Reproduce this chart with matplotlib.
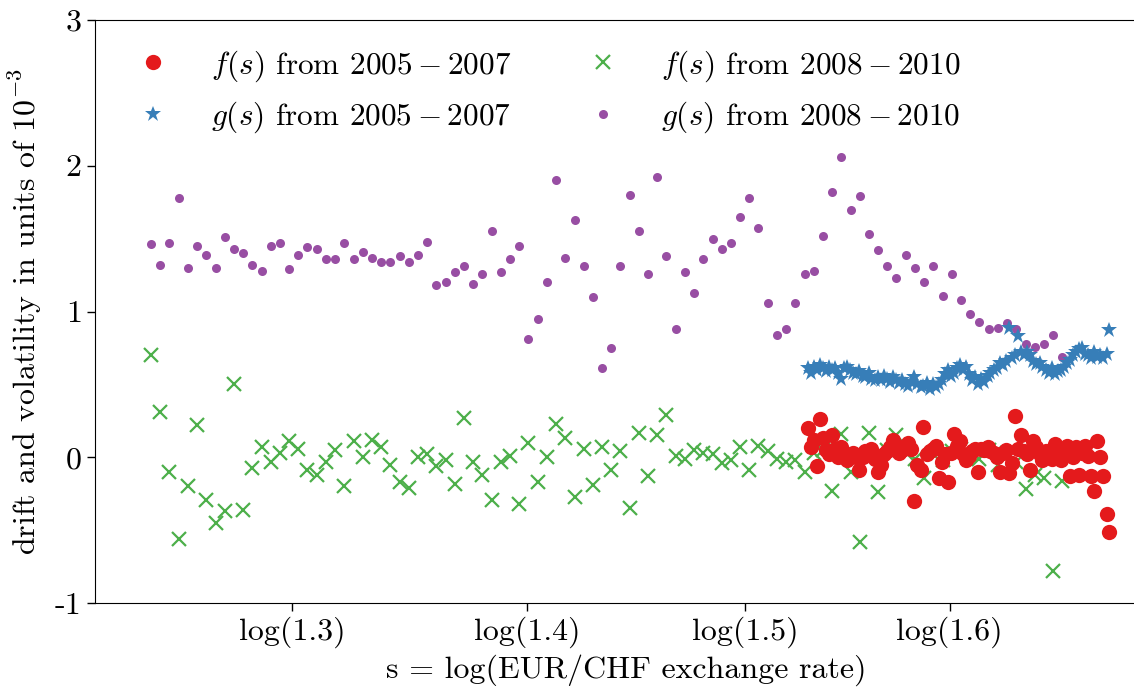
import matplotlib
matplotlib.use("Agg")
import matplotlib.pyplot as plt

plt.rcParams["font.family"] = "cmr10"
plt.rcParams["mathtext.fontset"] = "cm"
plt.rcParams["axes.formatter.use_mathtext"] = True
plt.rcParams["axes.unicode_minus"] = False

# log exchange-rate grid, 2008-2010 window
x_0810 = [
    0.2177, 0.2206, 0.2235, 0.2264, 0.2293, 0.2322, 0.2351, 0.2381, 0.2410, 0.2439,
    0.2468, 0.2497, 0.2526, 0.2555, 0.2584, 0.2613, 0.2642, 0.2671, 0.2700, 0.2729,
    0.2759, 0.2788, 0.2817, 0.2846, 0.2875, 0.2904, 0.2933, 0.2962, 0.2991, 0.3020,
    0.3049, 0.3078, 0.3108, 0.3137, 0.3166, 0.3195, 0.3224, 0.3253, 0.3282, 0.3311,
    0.3340, 0.3369, 0.3398, 0.3427, 0.3457, 0.3486, 0.3515, 0.3544, 0.3573, 0.3602,
    0.3631, 0.3660, 0.3689, 0.3718, 0.3747, 0.3776, 0.3805, 0.3835, 0.3864, 0.3893,
    0.3922, 0.3951, 0.3980, 0.4009, 0.4038, 0.4067, 0.4096, 0.4125, 0.4154, 0.4184,
    0.4213, 0.4242, 0.4271, 0.4300, 0.4329, 0.4358, 0.4387, 0.4416, 0.4445, 0.4474,
    0.4503, 0.4532, 0.4562, 0.4591, 0.4620, 0.4649, 0.4678, 0.4707, 0.4736, 0.4765,
    0.4794, 0.4823, 0.4852, 0.4881, 0.4911, 0.4940, 0.4969, 0.4998, 0.5027, 0.5056,
]
f_0810 = [
    0.70, 0.31, -0.10, -0.56, -0.20, 0.22, -0.29, -0.45, -0.37, 0.50,
    -0.36, -0.07, 0.07, -0.03, 0.03, 0.11, 0.06, -0.09, -0.12, -0.03,
    0.05, -0.20, 0.11, 0.00, 0.12, 0.07, -0.05, -0.17, -0.21, 0.00,
    0.02, -0.06, -0.02, -0.18, 0.27, -0.03, -0.12, -0.29, -0.03, 0.01,
    -0.32, 0.10, -0.17, 0.00, 0.23, 0.13, -0.27, 0.06, -0.19, 0.07,
    -0.09, 0.04, -0.35, 0.17, -0.13, 0.15, 0.29, 0.01, -0.01, 0.05,
    0.03, 0.02, -0.04, -0.02, 0.07, -0.09, 0.08, 0.04, -0.01, -0.03,
    -0.02, -0.10, 0.03, 0.05, -0.23, 0.16, -0.10, -0.58, 0.17, -0.24,
    0.05, 0.15, 0.03, -0.01, -0.14, 0.02, -0.02, 0.04, 0.06, 0.02,
    -0.01, 0.05, -0.05, 0.03, -0.03, -0.22, -0.12, -0.14, -0.78, -0.16,
]
g_0810 = [
    1.46, 1.32, 1.47, 1.78, 1.30, 1.45, 1.39, 1.30, 1.51, 1.43,
    1.40, 1.32, 1.28, 1.45, 1.47, 1.29, 1.39, 1.44, 1.43, 1.36,
    1.36, 1.47, 1.36, 1.41, 1.37, 1.34, 1.34, 1.38, 1.34, 1.39,
    1.48, 1.18, 1.20, 1.27, 1.31, 1.19, 1.26, 1.55, 1.27, 1.36,
    1.45, 0.81, 0.95, 1.20, 1.90, 1.37, 1.63, 1.31, 1.10, 0.61,
    0.75, 1.31, 1.80, 1.55, 1.26, 1.92, 1.38, 0.88, 1.27, 1.13,
    1.36, 1.50, 1.43, 1.47, 1.65, 1.78, 1.57, 1.06, 0.84, 0.88,
    1.06, 1.26, 1.28, 1.52, 1.82, 2.06, 1.70, 1.79, 1.53, 1.42,
    1.31, 1.23, 1.39, 1.30, 1.20, 1.31, 1.11, 1.26, 1.08, 0.98,
    0.93, 0.88, 0.89, 0.92, 0.88, 0.78, 0.76, 0.78, 0.84, 0.69,
]

# log exchange-rate grid, 2005-2007 window
x_0507 = [
    0.4251, 0.4261, 0.4270, 0.4280, 0.4290, 0.4299, 0.4309, 0.4318, 0.4328, 0.4338,
    0.4347, 0.4357, 0.4367, 0.4376, 0.4386, 0.4396, 0.4405, 0.4415, 0.4425, 0.4434,
    0.4444, 0.4453, 0.4463, 0.4473, 0.4482, 0.4492, 0.4502, 0.4511, 0.4521, 0.4531,
    0.4540, 0.4550, 0.4559, 0.4569, 0.4579, 0.4588, 0.4598, 0.4608, 0.4617, 0.4627,
    0.4637, 0.4646, 0.4656, 0.4666, 0.4675, 0.4685, 0.4694, 0.4704, 0.4714, 0.4723,
    0.4733, 0.4743, 0.4752, 0.4762, 0.4772, 0.4781, 0.4791, 0.4800, 0.4810, 0.4820,
    0.4829, 0.4839, 0.4849, 0.4858, 0.4868, 0.4878, 0.4887, 0.4897, 0.4907, 0.4916,
    0.4926, 0.4935, 0.4945, 0.4955, 0.4964, 0.4974, 0.4984, 0.4993, 0.5003, 0.5013,
    0.5022, 0.5032, 0.5041, 0.5051, 0.5061, 0.5070, 0.5080, 0.5090, 0.5099, 0.5109,
    0.5119, 0.5128, 0.5138, 0.5148, 0.5157, 0.5167, 0.5176, 0.5186, 0.5196, 0.5205,
]
f_0507 = [
    0.20, 0.07, 0.12, -0.06, 0.26, 0.13, 0.05, 0.02, 0.15, 0.06,
    0.00, 0.07, 0.03, -0.02, 0.01, 0.03, 0.00, -0.09, 0.00, 0.04,
    0.02, 0.06, -0.01, -0.10, -0.05, 0.02, 0.04, 0.07, 0.12, 0.06,
    0.03, 0.05, 0.08, 0.10, 0.06, -0.30, -0.05, -0.09, 0.21, 0.02,
    0.04, 0.06, 0.08, -0.14, -0.03, 0.02, -0.17, 0.03, 0.16, 0.08,
    0.11, 0.02, -0.02, 0.01, 0.04, 0.06, -0.10, 0.06, 0.05, 0.07,
    0.04, 0.03, 0.00, -0.10, 0.03, 0.05, -0.11, -0.04, 0.28, 0.06,
    0.15, 0.04, 0.02, -0.09, 0.11, 0.07, 0.02, -0.02, 0.04, 0.01,
    -0.01, 0.09, 0.03, -0.02, 0.06, 0.08, -0.13, 0.00, 0.07, -0.12,
    0.03, 0.08, 0.01, -0.13, -0.23, 0.11, 0.00, -0.13, -0.39, -0.51,
]
g_0507 = [
    0.61, 0.58, 0.62, 0.60, 0.63, 0.61, 0.59, 0.62, 0.60, 0.61,
    0.58, 0.54, 0.61, 0.62, 0.60, 0.58, 0.57, 0.59, 0.56, 0.55,
    0.58, 0.54, 0.53, 0.55, 0.53, 0.56, 0.54, 0.52, 0.55, 0.53,
    0.51, 0.53, 0.50, 0.49, 0.52, 0.55, 0.50, 0.48, 0.49, 0.51,
    0.47, 0.50, 0.48, 0.50, 0.53, 0.57, 0.60, 0.56, 0.58, 0.61,
    0.63, 0.60, 0.62, 0.57, 0.53, 0.55, 0.50, 0.54, 0.52, 0.56,
    0.58, 0.60, 0.61, 0.65, 0.63, 0.66, 0.89, 0.68, 0.70, 0.83,
    0.72, 0.70, 0.72, 0.70, 0.66, 0.64, 0.65, 0.62, 0.60, 0.58,
    0.61, 0.57, 0.59, 0.60, 0.62, 0.65, 0.67, 0.70, 0.72, 0.74,
    0.75, 0.71, 0.70, 0.68, 0.72, 0.69, 0.70, 0.68, 0.71, 0.87,
]

tick_pos = [0.262364, 0.336472, 0.405465, 0.470004]
tick_labels = ["log(1.3)", "log(1.4)", "log(1.5)", "log(1.6)"]
ytick_pos = [-1, 0, 1, 2, 3]
ytick_labels = ["-1", "0", "1", "2", "3"]

fig = plt.figure(figsize=(11.34, 6.9), dpi=100)
ax = fig.add_axes([0.0838, 0.126, 0.937, 0.845])

(h_f08,) = ax.plot(x_0810, f_0810, "x", color="#4daf4a", ms=10, mew=1.6, linestyle="none")
(h_g08,) = ax.plot(x_0810, g_0810, "o", color="#984ea3", ms=6.5, mew=0, linestyle="none")
(h_f05,) = ax.plot(x_0507, f_0507, "o", color="#e41a1c", ms=11, mew=0, linestyle="none")
(h_g05,) = ax.plot(x_0507, g_0507, "*", color="#377eb8", ms=12, mew=0, linestyle="none")

ax.set_xlim(0.2, 0.5357)
ax.set_ylim(-1, 3)
ax.set_xticks(tick_pos)
ax.set_xticklabels(tick_labels)
ax.set_yticks(ytick_pos)
ax.set_yticklabels(ytick_labels)
ax.tick_params(labelsize=23, length=6, width=1)
ax.set_xlabel("s = log(EUR/CHF exchange rate)", fontsize=23, labelpad=5)
ax.set_ylabel(r"drift and volatility in units of $10^{-3}$", fontsize=23, labelpad=8)

ax.legend(
    [h_f05, h_g05, h_f08, h_g08],
    [r"$f(s)$ from $2005-2007$", r"$g(s)$ from $2005-2007$",
     r"$f(s)$ from $2008-2010$", r"$g(s)$ from $2008-2010$"],
    loc="upper left", ncol=2, frameon=False, fontsize=22.5,
    handletextpad=0.9, handlelength=1.9, columnspacing=2.0, borderaxespad=0.5,
)

fig.savefig("out.png", dpi=100)
